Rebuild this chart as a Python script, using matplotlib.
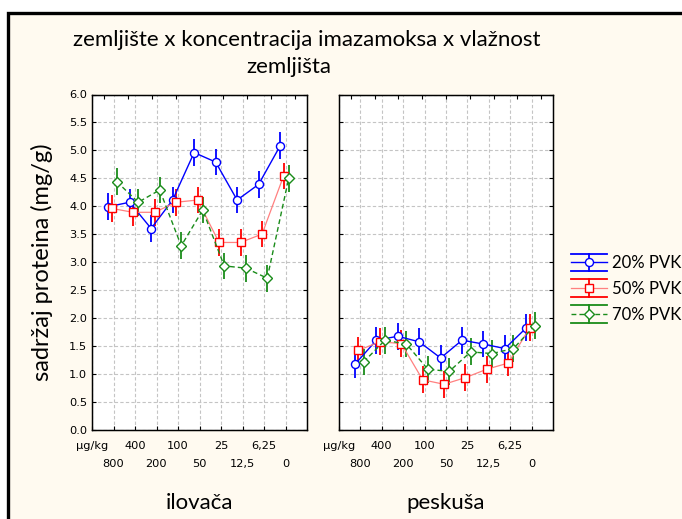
import numpy as np
import matplotlib
matplotlib.use("Agg")
import matplotlib.pyplot as plt
from matplotlib.lines import Line2D
from matplotlib.patches import Rectangle
from matplotlib.legend_handler import HandlerBase

# ---- data -------------------------------------------------------------
concentrations = ["800", "400", "200", "100", "50", "25", "12,5", "6,25", "0"]
unit_label = "µg/kg"
soils = ["ilovača", "peskuša"]
moisture = ["20% PVK", "50% PVK", "70% PVK"]

ilovaca_20 = [3.99, 4.07, 3.60, 4.11, 4.96, 4.79, 4.11, 4.39, 5.08]
ilovaca_50 = [3.96, 3.89, 3.89, 4.07, 4.11, 3.35, 3.35, 3.50, 4.54]
ilovaca_70 = [4.44, 4.07, 4.29, 3.29, 3.93, 2.93, 2.89, 2.71, 4.50]

peskusa_20 = [1.17, 1.60, 1.67, 1.57, 1.28, 1.60, 1.53, 1.45, 1.82]
peskusa_50 = [1.42, 1.57, 1.54, 0.89, 0.81, 0.93, 1.08, 1.19, 1.82]
peskusa_70 = [1.21, 1.60, 1.53, 1.08, 1.04, 1.39, 1.36, 1.45, 1.86]

ci_half = 0.24  # half-width of the vertical bars

title_line1 = "zemljište x koncentracija imazamoksa x vlažnost"
title_line2 = "zemljišta"
y_label = "sadržaj proteina (mg/g)"

# ---- styles -----------------------------------------------------------
TEXT_FONT = "Lato"
TICK_FONT = "DejaVu Sans"
styles = [
    dict(line="#0000FF", err="#0000FF", marker="o", ms=5.8, ls="-", lw=1.0, shift=-0.25),
    dict(line="#FF8080", err="#FF0000", marker="s", ms=5.6, ls="-", lw=0.9, shift=-0.09),
    dict(line="#1A8C1A", err="#1A8C1A", marker="D", ms=5.2, ls=(0, (3.5, 2.2)), lw=1.0, shift=0.15),
]

fig = plt.figure(figsize=(6.82, 5.19), dpi=100)
fig.patch.set_facecolor("white")
W, H = 682.0, 519.0

# cream panel with black frame
fig.add_artist(Rectangle((8 / W, -0.1), 1.2, (H - 12.5) / H + 0.1,
                         transform=fig.transFigure, facecolor="#FFFAF0",
                         edgecolor="black", lw=2.4, zorder=-10))

ax1 = fig.add_axes([92 / W, 89.5 / H, 215 / W, 335 / H])
ax2 = fig.add_axes([339 / W, 89.5 / H, 214 / W, 335 / H])

panel_data = [
    [ilovaca_20, ilovaca_50, ilovaca_70],
    [peskusa_20, peskusa_50, peskusa_70],
]

pos = np.arange(1, len(concentrations) + 1)
# staggered category labels: lower row on odd positions, upper row (with unit) on even ones
lower_pos = pos[0::2]
lower_lab = concentrations[0::2]
upper_pos = np.concatenate([[0], pos[1::2]])
upper_lab = [unit_label] + concentrations[1::2]

for k, (ax, series) in enumerate(zip([ax1, ax2], panel_data)):
    ax.set_facecolor("white")
    ax.set_xlim(0, len(concentrations) + 1)
    ax.set_ylim(0, 6)
    yt = np.arange(0, 6.01, 0.5)
    ax.set_yticks(yt)
    ax.set_yticklabels([f"{v:.1f}" for v in yt], family=TICK_FONT)
    ax.set_xticks(lower_pos)
    ax.set_xticklabels(lower_lab, family=TICK_FONT)
    ax.set_xticks(upper_pos, minor=True)
    ax.set_xticklabels(upper_lab, minor=True, family=TICK_FONT)
    ax.grid(True, which="both", axis="x", color="#C4C4C4", ls=(0, (3, 2)), lw=0.8)
    ax.grid(True, which="major", axis="y", color="#C4C4C4", ls=(0, (3, 2)), lw=0.8)
    ax.set_axisbelow(True)
    ax.tick_params(which="both", direction="in", length=3, right=True, top=False,
                   labelsize=8.2, width=0.8)
    ax.tick_params(axis="x", which="minor", pad=8.5)
    ax.tick_params(axis="x", which="major", pad=21)
    if k == 1:
        ax.tick_params(labelleft=False)
    for sp in ax.spines.values():
        sp.set_color("black")
        sp.set_linewidth(1.0)

    # top ticks sit at the centres of nine equal intervals
    tw = ax.twiny()
    tw.set_xlim(0, len(concentrations))
    tw.set_xticks(np.arange(len(concentrations)) + 0.5)
    tw.tick_params(direction="in", length=3, labeltop=False, width=0.8)

    for vals, st in zip(series, styles):
        x = pos + st["shift"]
        ax.errorbar(x, vals, yerr=ci_half, fmt="none", ecolor=st["err"],
                    elinewidth=1.3, capsize=0, zorder=3)
        ax.plot(x, vals, color=st["line"], ls=st["ls"], lw=st["lw"],
                marker=st["marker"], ms=st["ms"], mec=st["err"], mfc="white",
                mew=1.0, zorder=4)

    ax.set_xlabel(soils[k], fontsize=16, family=TEXT_FONT, va="center")
    ax.xaxis.set_label_coords(0.5, (429.5 - 503) / 335)

ax1.set_ylabel(y_label, fontsize=17, family=TEXT_FONT, va="center")
ax1.yaxis.set_label_coords((42 - 92) / 215, 0.5)

fig.text(306.7 / W, 1 - 40 / H, title_line1, ha="center", va="center",
         fontsize=16, family=TEXT_FONT)
fig.text(288.8 / W, 1 - 67 / H, title_line2, ha="center", va="center",
         fontsize=16, family=TEXT_FONT)


# legend glyph: caps above and below, a vertical bar, the series line and marker
class ErrorGlyph(HandlerBase):
    def __init__(self, ecolor, **kw):
        super().__init__(**kw)
        self.ecolor = ecolor

    def create_artists(self, legend, orig_handle, xdescent, ydescent,
                       width, height, fontsize, trans):
        x0, x1 = -xdescent, -xdescent + width
        y0, y1 = -ydescent, -ydescent + height
        xc, yc = (x0 + x1) / 2, (y0 + y1) / 2
        top = Line2D([x0, x1], [y1, y1], color=self.ecolor, lw=1.3)
        bot = Line2D([x0, x1], [y0, y0], color=self.ecolor, lw=1.3)
        vert = Line2D([xc, xc], [y0, y1], color=self.ecolor, lw=1.3)
        mid = Line2D([x0, x1], [yc, yc])
        mid.update_from(orig_handle)
        mid.set_marker("")
        mk = Line2D([xc], [yc])
        mk.update_from(orig_handle)
        mk.set_linestyle("none")
        arts = [top, bot, vert, mid, mk]
        for a in arts:
            a.set_transform(trans)
        return arts


handles, hmap = [], {}
for st in styles:
    h = Line2D([], [], color=st["line"], ls=st["ls"], lw=st["lw"],
               marker=st["marker"], ms=st["ms"], mec=st["err"], mfc="white", mew=1.0)
    handles.append(h)
    hmap[h] = ErrorGlyph(st["err"])

fig.legend(handles, moisture, handler_map=hmap, loc="upper left",
           bbox_to_anchor=(571 / W, 1 - 253.5 / H), frameon=False,
           prop=dict(family=TEXT_FONT, size=12.1),
           handlelength=2.15, handleheight=1.22, labelspacing=0.5,
           handletextpad=0.3, borderpad=0, borderaxespad=0)

fig.savefig("out.png", dpi=100, facecolor=fig.get_facecolor())
